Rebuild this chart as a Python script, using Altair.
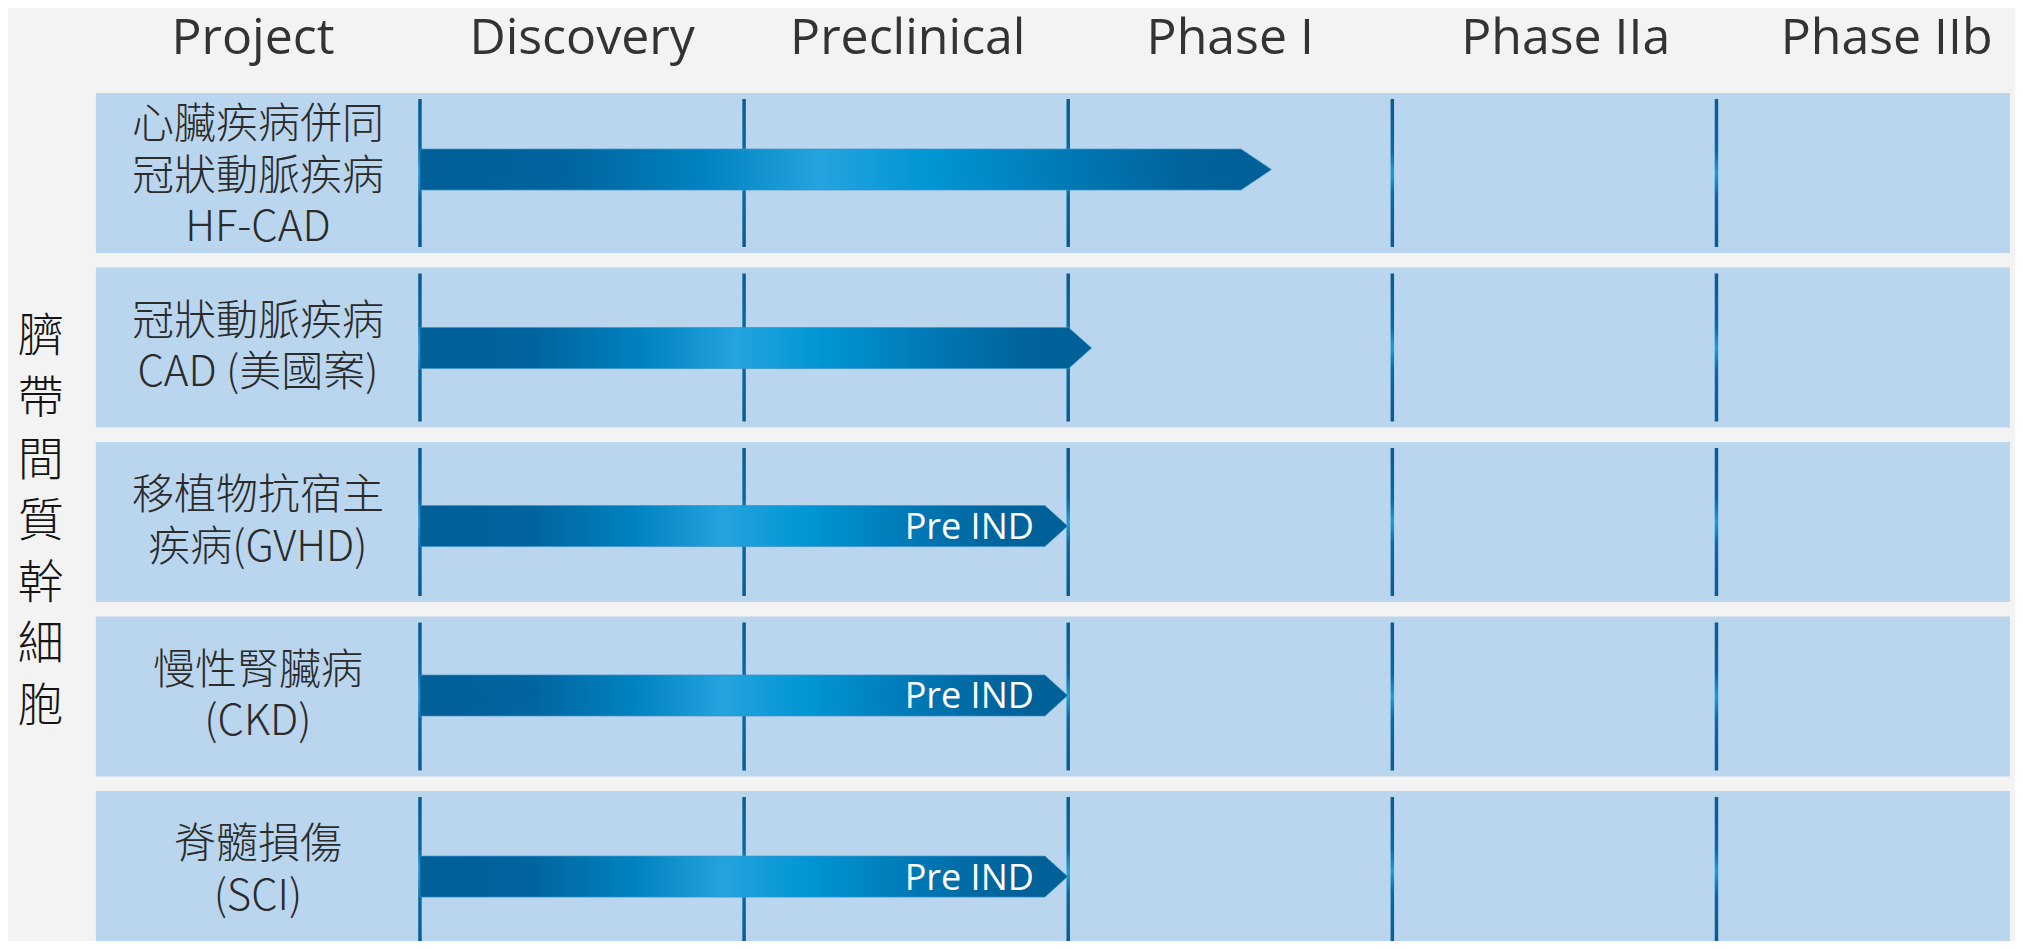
import altair as alt
import pandas as pd

# ---------------- data ----------------
stages = ["Project", "Discovery", "Preclinical", "Phase I", "Phase IIa", "Phase IIb"]
header_x = [0.485, 1.5, 2.505, 3.5, 4.535, 5.525]
dividers = [1, 2, 3, 4, 5]

projects = [
    ["心臟疾病併同", "冠狀動脈疾病", "HF-CAD"],
    ["冠狀動脈疾病", "CAD (美國案)"],
    ["移植物抗宿主", "疾病(GVHD)"],
    ["慢性腎臟病", "(CKD)"],
    ["脊髓損傷", "(SCI)"],
]
rows = [0, 1, 2, 3, 4]
label_center = [0.02, 1.0, 2.0, 3.0, 4.0]
arrow_start = [1.0, 1.0, 1.0, 1.0, 1.0]
arrow_body_end = [3.533, 3.001, 2.928, 2.928, 2.928]
arrow_tip = [3.627, 3.072, 2.998, 2.998, 2.998]
arrow_mid = [-0.02, 1.003, 2.023, 2.994, 4.032]
arrow_labels = ["", "", "Pre IND", "Pre IND", "Pre IND"]
group_label = "臍帶間質幹細胞"

# ---------------- layout constants ----------------
X_MIN, X_MAX = -0.2556, 5.9056
Y_MIN, Y_MAX = -0.9456, 4.401
BAND_HALF = 0.4585
LINE_HALF = 0.424
ARROW_HALF = 0.1175
HEADER_Y = -0.768
PROJ_LINE_STEP = 0.295     # ~51.5 px in row units
GROUP_LINE_STEP = 0.3525   # 61.5 px in row units

xs = alt.Scale(domain=[X_MIN, X_MAX], nice=False, zero=False)
ys = alt.Scale(domain=[Y_MIN, Y_MAX], nice=False, zero=False, reverse=True)

# ---------------- tables ----------------
band_df = pd.DataFrame({
    "x": [0.0] * len(rows),
    "x2": [X_MAX] * len(rows),
    "y": [r - BAND_HALF for r in rows],
    "y2": [r + BAND_HALF for r in rows],
})

line_rows = []
for r in rows:
    for d in dividers:
        line_rows.append({"x": d, "y": r - LINE_HALF, "y2": r + LINE_HALF, "k": f"{r}-{d}"})
line_df = pd.DataFrame(line_rows)

arrow_rows = []
for i in range(len(projects)):
    m = arrow_mid[i]
    arrow_rows.append({"proj": i, "x": arrow_start[i], "top": m - ARROW_HALF, "bot": m + ARROW_HALF})
    arrow_rows.append({"proj": i, "x": arrow_body_end[i], "top": m - ARROW_HALF, "bot": m + ARROW_HALF})
    arrow_rows.append({"proj": i, "x": arrow_tip[i], "top": m, "bot": m})
arrow_df = pd.DataFrame(arrow_rows)

label_df = pd.DataFrame({"x": arrow_body_end, "y": arrow_mid, "t": arrow_labels})

proj_rows = []
for c, lines_ in zip(label_center, projects):
    n = len(lines_)
    for j, s in enumerate(lines_):
        proj_rows.append({"x": 0.5, "y": c + (j - (n - 1) / 2) * PROJ_LINE_STEP, "t": s})
proj_df = pd.DataFrame(proj_rows)

head_df = pd.DataFrame({"x": header_x, "y": [HEADER_Y] * len(stages), "t": stages})

chars = list(group_label)
group_df = pd.DataFrame({
    "x": [-0.17] * len(chars),
    "y": [2.0 + (j - (len(chars) - 1) / 2) * GROUP_LINE_STEP for j in range(len(chars))],
    "t": chars,
})

# ---------------- gradients ----------------
arrow_grad = alt.Gradient(
    gradient="linear",
    stops=[
        alt.GradientStop(color="#005f97", offset=0.0),
        alt.GradientStop(color="#00649e", offset=0.17),
        alt.GradientStop(color="#0082c0", offset=0.33),
        alt.GradientStop(color="#24a3df", offset=0.47),
        alt.GradientStop(color="#0096d4", offset=0.6),
        alt.GradientStop(color="#0079b6", offset=0.76),
        alt.GradientStop(color="#00639b", offset=0.9),
        alt.GradientStop(color="#006098", offset=1.0),
    ],
    x1=0, x2=1, y1=0, y2=0,
)
line_grad = alt.Gradient(
    gradient="linear",
    stops=[
        alt.GradientStop(color="#0a5b91", offset=0.0),
        alt.GradientStop(color="#0b68a2", offset=0.35),
        alt.GradientStop(color="#1f9dd8", offset=0.5),
        alt.GradientStop(color="#0b68a2", offset=0.65),
        alt.GradientStop(color="#0a5b91", offset=1.0),
    ],
    x1=0, x2=0, y1=0, y2=1,
)

# ---------------- layers ----------------
bands = alt.Chart(band_df).mark_rect(color="#bad6ee").encode(
    x=alt.X("x:Q", scale=xs, axis=None),
    x2="x2:Q",
    y=alt.Y("y:Q", scale=ys, axis=None),
    y2="y2:Q",
)

lines = alt.Chart(line_df).mark_bar(width=3.5, color=line_grad).encode(
    x=alt.X("x:Q", scale=xs, axis=None),
    y=alt.Y("y:Q", scale=ys, axis=None),
    y2="y2:Q",
    detail="k:N",
)

arrows = alt.Chart(arrow_df).mark_area(
    color=arrow_grad, interpolate="linear", stroke="#3b93cb", strokeWidth=1, strokeOpacity=0.7
).encode(
    x=alt.X("x:Q", scale=xs, axis=None),
    y=alt.Y("top:Q", scale=ys, axis=None, stack=False),
    y2="bot:Q",
    detail="proj:N",
)

pre_text = alt.Chart(label_df).mark_text(
    align="right", baseline="middle", dx=-11, dy=2,
    font="Open Sans", fontSize=36, color="white",
).encode(
    x=alt.X("x:Q", scale=xs, axis=None),
    y=alt.Y("y:Q", scale=ys, axis=None),
    text="t:N",
)

proj_text = alt.Chart(proj_df).mark_text(
    align="center", baseline="middle",
    font="Noto Sans CJK TC", fontSize=42, fontWeight=300, color="#2b2b2b",
).encode(
    x=alt.X("x:Q", scale=xs, axis=None),
    y=alt.Y("y:Q", scale=ys, axis=None),
    text="t:N",
)

head_text = alt.Chart(head_df).mark_text(
    align="center", baseline="middle",
    font="Open Sans", fontSize=50, color="#333333",
).encode(
    x=alt.X("x:Q", scale=xs, axis=None),
    y=alt.Y("y:Q", scale=ys, axis=None),
    text="t:N",
)

group_text = alt.Chart(group_df).mark_text(
    align="center", baseline="middle",
    font="Noto Sans CJK TC", fontSize=46, fontWeight=300, color="#151515",
).encode(
    x=alt.X("x:Q", scale=xs, axis=None),
    y=alt.Y("y:Q", scale=ys, axis=None),
    text="t:N",
)

chart = alt.layer(
    bands, lines, arrows, pre_text, proj_text, head_text, group_text
).properties(
    width=2007, height=933,
    autosize=alt.AutoSizeParams(type="none"),
    padding=0,
    background="#f3f3f3",
).configure_view(stroke=None)

chart.save("out.html", embed_options={"renderer": "svg", "actions": False})
